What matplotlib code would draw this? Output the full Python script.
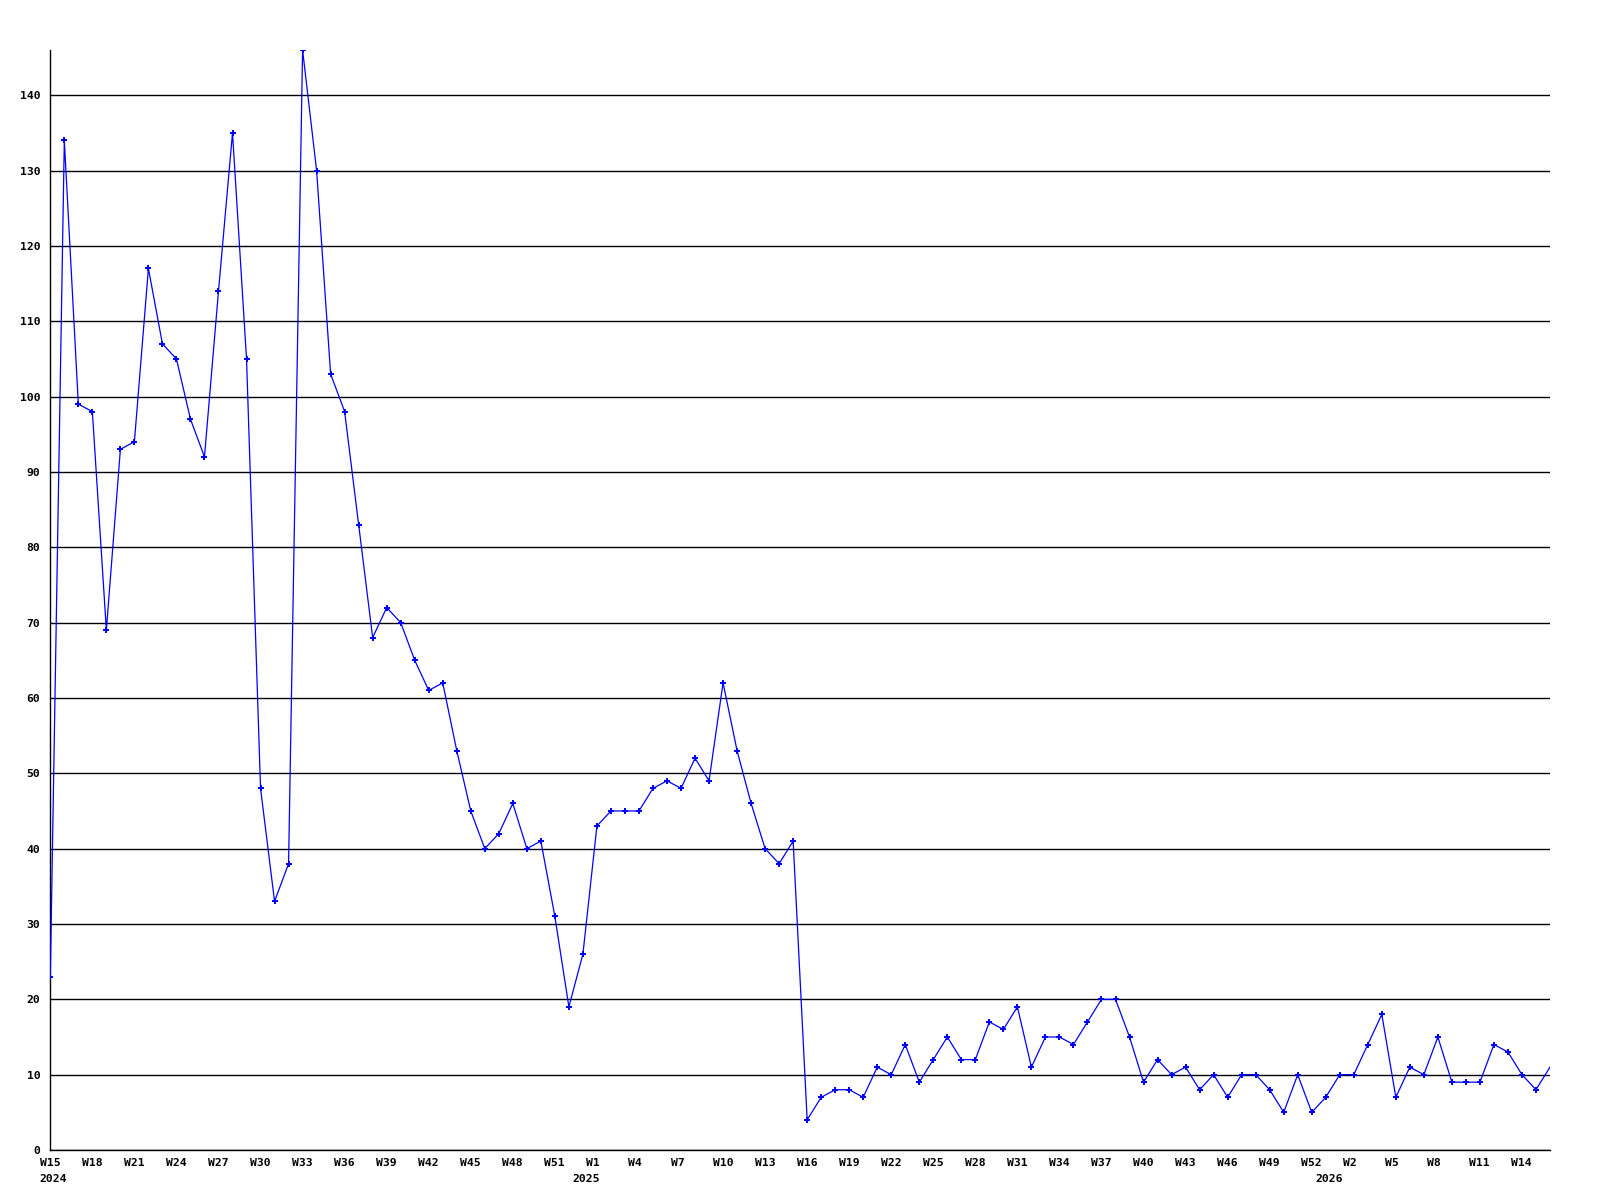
import matplotlib
matplotlib.use("Agg")
import matplotlib.pyplot as plt
import matplotlib.transforms as mtransforms
import numpy as np

# ---- data ----
values = [23, 134, 99, 98, 69, 93, 94, 117, 107, 105, 97, 92, 114, 135, 105, 48, 33, 38,
          146, 130, 103, 98, 83, 68, 72, 70, 65, 61, 62, 53, 45, 40, 42, 46, 40, 41, 31, 19,
          26, 43, 45, 45, 45, 48, 49, 48, 52, 49, 62, 53, 46, 40, 38, 41, 4, 7, 8, 8, 7, 11,
          10, 14, 9, 12, 15, 12, 12, 17, 16, 19, 11, 15, 15, 14, 17, 20, 20, 15, 9, 12, 10,
          11, 8, 10, 7, 10, 10, 8, 5, 10, 5, 7, 10, 10, 14, 18, 7, 11, 10, 15, 9, 9, 9, 14,
          13, 10, 8, 11]
week_labels = ["W15", "W18", "W21", "W24", "W27", "W30", "W33", "W36", "W39", "W42", "W45",
               "W48", "W51", "W1", "W4", "W7", "W10", "W13", "W16", "W19", "W22", "W25",
               "W28", "W31", "W34", "W37", "W40", "W43", "W46", "W49", "W52", "W2", "W5",
               "W8", "W11", "W14"]
week_label_idx = [0, 3, 6, 9, 12, 15, 18, 21, 24, 27, 30, 33, 36, 39, 42, 45, 48, 51, 54,
                  57, 60, 63, 66, 69, 72, 75, 78, 81, 84, 87, 90, 93, 96, 99, 102, 105]
year_labels = ["2024", "2025", "2026"]
year_label_idx = [0, 38, 91]
y_ticks = [0, 10, 20, 30, 40, 50, 60, 70, 80, 90, 100, 110, 120, 130, 140]

DPI = 100
fig = plt.figure(figsize=(16, 12), dpi=DPI)
W, H = 1600, 1200
ax = fig.add_axes([50.3 / W, 1 - 1150 / H, (1550 - 50.3) / W, (1150 - 50) / H])

x = np.arange(len(values))
n = len(values)
ax.plot(x, values, color="#0000FF", linewidth=0.9, marker="P", markersize=4.2,
        markeredgewidth=0, markerfacecolor="#0000FF", markevery=list(range(n - 1)),
        clip_on=True, zorder=3)

ax.set_xlim(0, n - 1)
ax.set_ylim(0, max(values))

for s in ["top", "right"]:
    ax.spines[s].set_visible(False)
for s in ["left", "bottom"]:
    ax.spines[s].set_color("black")
    ax.spines[s].set_linewidth(1.0)

ax.set_yticks(y_ticks)
ax.set_yticklabels([str(v) for v in y_ticks])
ax.yaxis.grid(True, color="black", linewidth=1.0)
ax.set_axisbelow(True)
ax.tick_params(axis="y", length=0, pad=7.2)
for lab in ax.get_yticklabels():
    lab.set_fontfamily("DejaVu Sans Mono")
    lab.set_fontweight("bold")
    lab.set_fontsize(8.2)

ax.set_xticks([])

trans = mtransforms.blended_transform_factory(ax.transData, ax.transAxes)
font = dict(family="DejaVu Sans Mono", weight="bold", size=8.2)
off_w = mtransforms.ScaledTranslation(-10.5 / DPI, -16 / DPI, fig.dpi_scale_trans)
for i, lab in zip(week_label_idx, week_labels):
    ax.text(i, 0, lab, transform=trans + off_w, ha="left", va="baseline",
            clip_on=False, **font)
off_y = mtransforms.ScaledTranslation(-10.5 / DPI, -31.7 / DPI, fig.dpi_scale_trans)
for i, lab in zip(year_label_idx, year_labels):
    ax.text(i, 0, lab, transform=trans + off_y, ha="left", va="baseline",
            clip_on=False, **font)

fig.savefig("out.png", dpi=DPI, facecolor="white")
